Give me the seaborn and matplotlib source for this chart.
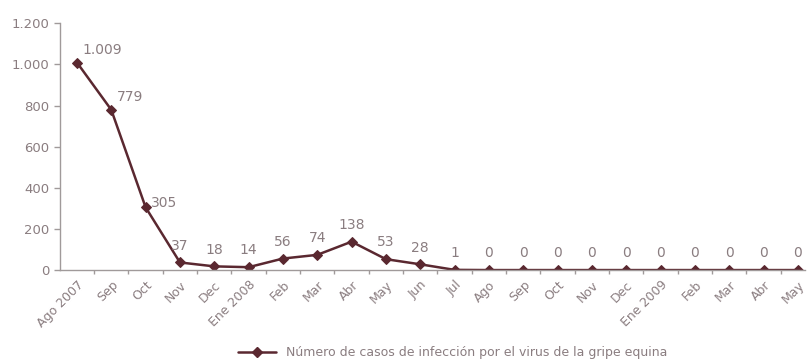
import matplotlib
matplotlib.use("Agg")
import matplotlib.pyplot as plt
import seaborn as sns
import pandas as pd
from matplotlib.ticker import FuncFormatter, FixedLocator

months = ["Ago 2007", "Sep", "Oct", "Nov", "Dec", "Ene 2008", "Feb", "Mar", "Abr", "May",
          "Jun", "Jul", "Ago", "Sep", "Oct", "Nov", "Dec", "Ene 2009", "Feb", "Mar", "Abr", "May"]
cases = [1009, 779, 305, 37, 18, 14, 56, 74, 138, 53, 28, 1, 0, 0, 0, 0, 0, 0, 0, 0, 0, 0]
series_label = "Número de casos de infección por el virus de la gripe equina"

sns.set_theme(style="white")
plt.rcParams['font.family'] = ['DejaVu Sans']

df = pd.DataFrame({"idx": range(len(months)), "casos": cases, "serie": series_label})

fig = plt.figure(figsize=(8.08, 3.63), dpi=100)
ax = fig.add_axes([0.074, 0.256, 0.922, 0.68])

line_color = "#5a2830"
text_color = "#8a7d80"
axis_color = "#a09a9a"

sns.lineplot(data=df, x="idx", y="casos", hue="serie", palette=[line_color], marker="D",
             markersize=5.5, linewidth=1.8, markeredgecolor=line_color, ax=ax, legend=False)

def fmt(v):
    return f"{int(v):,}".replace(",", ".")

for i, v in enumerate(cases):
    if i < 3:
        ax.annotate(fmt(v), (i, v), xytext=(4, 4 if i < 2 else -2), textcoords="offset points",
                    ha="left", va="bottom", fontsize=10, color=text_color)
    else:
        ax.annotate(fmt(v), (i, v), xytext=(0, 7), textcoords="offset points",
                    ha="center", va="bottom", fontsize=10, color=text_color)

ax.set_xlim(-0.5, 21.2)
ax.set_ylim(0, 1200)
ax.set_yticks(range(0, 1201, 200))
ax.yaxis.set_major_formatter(FuncFormatter(lambda v, p: fmt(v)))
ax.set_xticks(range(len(months)))
ax.set_xticklabels(months, rotation=45, ha="right", rotation_mode="anchor")
ax.xaxis.set_minor_locator(FixedLocator([i + 0.5 for i in range(len(months) - 1)]))
ax.set_xlabel("")
ax.set_ylabel("")
for s in ["top", "right"]:
    ax.spines[s].set_visible(False)
for s in ["left", "bottom"]:
    ax.spines[s].set_color(axis_color)
    ax.spines[s].set_linewidth(1.0)
ax.tick_params(axis="y", colors=axis_color, labelcolor=text_color, labelsize=9.5,
               length=4, width=1, direction="out", left=True)
ax.tick_params(axis="x", which="major", colors=axis_color, labelcolor=text_color, labelsize=9,
               length=0, pad=6, direction="out", bottom=True)
ax.tick_params(axis="x", which="minor", colors=axis_color, length=3, width=1,
               direction="out", bottom=True)

handle = plt.Line2D([], [], color=line_color, marker="D", markersize=5.5, linewidth=1.8)
leg = fig.legend([handle], [series_label], loc="center", bbox_to_anchor=(0.56, 0.028),
                 frameon=False, fontsize=9, handlelength=3, handletextpad=0.8)
for t in leg.get_texts():
    t.set_color(text_color)

fig.savefig("out.png", dpi=100)
